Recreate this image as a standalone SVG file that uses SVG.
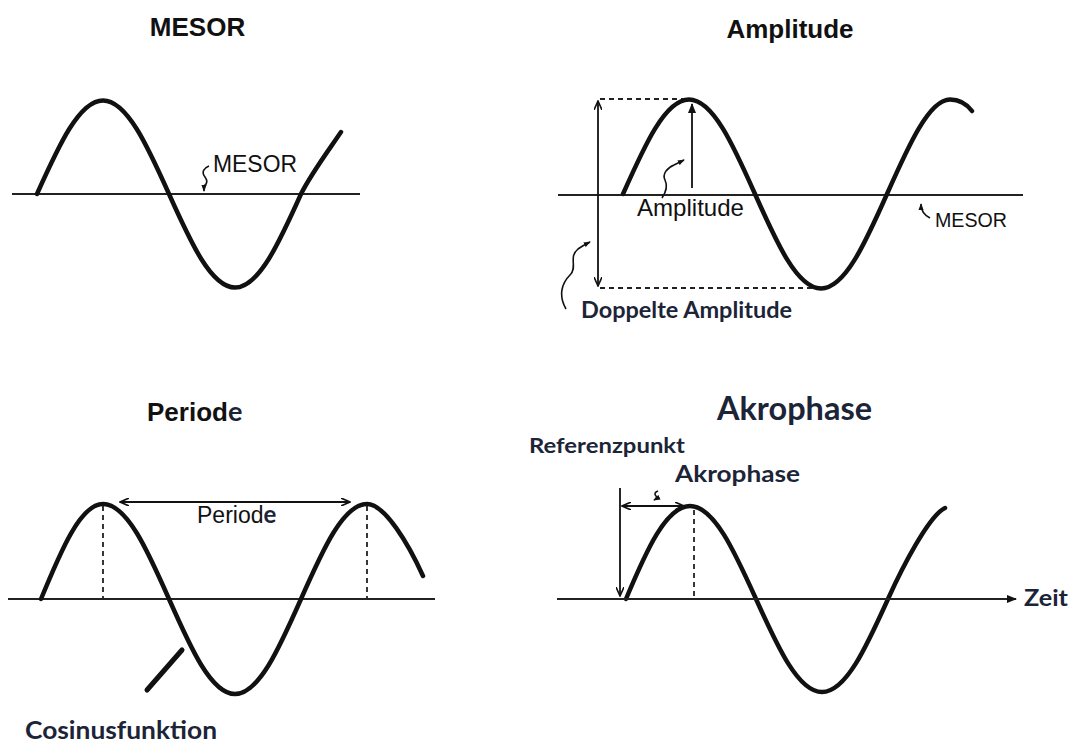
<svg xmlns="http://www.w3.org/2000/svg" width="1070" height="742" viewBox="0 0 1070 742">
<style>
.wave{fill:none;stroke:#111;stroke-width:4.5;stroke-linecap:round;stroke-linejoin:round}
.base{fill:none;stroke:#222;stroke-width:2}
.dash{fill:none;stroke:#222;stroke-width:1.8;stroke-dasharray:5,4}
.thin{fill:none;stroke:#111;stroke-width:1.8}
.sq{fill:none;stroke:#111;stroke-width:1.6}
.h{font-family:"Liberation Sans",Arial,sans-serif;fill:#111}
.hb{font-family:"Liberation Sans",Arial,sans-serif;font-weight:bold;fill:#111}
.c{font-family:Lato,"Open Sans",sans-serif;font-weight:bold;fill:#1c2438}
</style>
<defs>
<marker id="chev" viewBox="0 0 10 8" markerWidth="10" markerHeight="8" refX="9" refY="4" orient="auto-start-reverse" markerUnits="userSpaceOnUse">
<path d="M0,0 L9,4 L0,8" fill="none" stroke="#111" stroke-width="1.6"/>
</marker>
<marker id="tri" viewBox="0 0 10 8" markerWidth="10" markerHeight="8" refX="9" refY="4" orient="auto-start-reverse" markerUnits="userSpaceOnUse">
<path d="M0,0 L10,4 L0,8 z" fill="#111"/>
</marker>
<marker id="small" viewBox="0 0 8 6" markerWidth="7" markerHeight="6" refX="7" refY="3" orient="auto" markerUnits="userSpaceOnUse">
<path d="M0,0 L8,3 L0,6 z" fill="#111"/>
</marker>
</defs>
<rect width="1070" height="742" fill="#fff"/>

<g id="panel-mesor">
<text class="hb" x="197.5" y="36" font-size="26" text-anchor="middle">MESOR</text>
<line class="base" x1="12" y1="194" x2="360" y2="194"/>
<path class="wave" d="M37,194 c21.5,-47.9 42.1,-93.5 66,-93.5 c23.9,0 44.5,45.6 66,93.5 c21.5,47.9 42.1,93.5 66,93.5 c23.9,0 44.5,-45.6 66,-93.5 C311,174 326,154 341,132"/>
<text class="h" x="213" y="172" font-size="23" textLength="84" lengthAdjust="spacingAndGlyphs">MESOR</text>
</g>

<g id="panel-amplitude">
<text class="hb" x="790" y="38" font-size="26" text-anchor="middle">Amplitude</text>
<line class="base" x1="558" y1="195" x2="1023" y2="195"/>
<line class="dash" x1="600" y1="99" x2="688" y2="99"/>
<line class="dash" x1="600" y1="288" x2="818" y2="288"/>
<path class="wave" d="M623,194 c21.5,-48.4 42.1,-94.5 66,-94.5 c23.9,0 44.5,46.1 66,94.5 c21.5,48.4 42.1,94.5 66,94.5 c23.9,0 44.5,-46.1 66,-94.5 c21.5,-48.4 42.1,-94.5 63,-94.5 C959,99.5 966,103 972,111"/>
<text class="h" x="637" y="216" font-size="24" textLength="107" lengthAdjust="spacingAndGlyphs">Amplitude</text>
<text class="h" x="935" y="227" font-size="20" textLength="72" lengthAdjust="spacingAndGlyphs">MESOR</text>
<text class="c" x="581" y="318" font-size="23" textLength="211" lengthAdjust="spacingAndGlyphs">Doppelte Amplitude</text>
</g>

<g id="panel-periode">
<text class="hb" x="147" y="421" font-size="26">Period<tspan class="c" font-size="27" fill="#1c2438">e</tspan></text>
<line class="base" x1="8" y1="599" x2="435" y2="599"/>
<line class="dash" x1="103" y1="506" x2="103" y2="599"/>
<line class="dash" x1="367" y1="506" x2="367" y2="599"/>
<path class="wave" d="M41,599 c20,-48.6 39.5,-95 62,-95 c23.9,0 44.5,46.4 66,95 c21.5,48.6 42.1,95 66,95 c23.9,0 44.5,-46.4 66,-95 c21.5,-48.6 42.1,-95 66,-95 C385,504 409,545 423,576"/>
<text class="h" x="197" y="523" font-size="23">Period<tspan class="c" font-size="24" fill="#1c2438">e</tspan></text>
<text class="c" x="25" y="739" font-size="25" textLength="192" lengthAdjust="spacingAndGlyphs">Cosinusfunktion</text>
</g>

<g id="panel-akrophase">
<text class="c" x="717" y="420" font-size="33" textLength="155" lengthAdjust="spacingAndGlyphs">Akrophase</text>
<text class="c" x="529" y="453" font-size="20" textLength="156" lengthAdjust="spacingAndGlyphs">Referenzpunkt</text>
<text class="c" x="675" y="482" font-size="23" textLength="125" lengthAdjust="spacingAndGlyphs">Akrophase</text>
<line class="dash" x1="694" y1="510" x2="694" y2="598"/>
<path class="wave" d="M626,599 c20,-47.6 40,-93 64,-93 c23.9,0 44.5,45.4 66,93 c21.5,47.6 42.1,93 66,93 c23.9,0 44.5,-45.4 66,-93 C902,568 929,515.5 945,508"/>
<text class="c" x="1024" y="606" font-size="22" textLength="44" lengthAdjust="spacingAndGlyphs">Zeit</text>
</g>

<g id="connectors">
<path class="sq" d="M209,166 c-5,2 -8,6 -4,11 c3,4 2,7 -1,9 l0,5" marker-end="url(#small)"/>
<line class="thin" x1="598" y1="101" x2="598" y2="286" marker-start="url(#chev)" marker-end="url(#chev)"/>
<line class="thin" x1="692" y1="188" x2="692" y2="104" marker-end="url(#tri)"/>
<path class="sq" d="M662,198 c4,-6 6,-12 3,-18 c-3,-6 2,-12 9,-15 l10,-5" marker-end="url(#small)"/>
<path class="sq" d="M930,218 c-6,-3 -9,-8 -9,-14" marker-end="url(#small)"/>
<path class="sq" d="M566,309 c-8,-14 -4,-26 4,-34 c8,-8 -2,-18 8,-26 c4,-3 8,-5 12,-7" marker-end="url(#small)"/>
<line class="thin" x1="120" y1="502" x2="350" y2="502" marker-start="url(#chev)" marker-end="url(#chev)"/>
<line x1="147" y1="690" x2="182" y2="650" stroke="#111" stroke-width="5" stroke-linecap="round"/>
<line class="base" x1="557" y1="599" x2="1016" y2="599" marker-end="url(#tri)"/>
<line class="thin" x1="620" y1="488" x2="620" y2="596" marker-end="url(#chev)"/>
<line class="thin" x1="622" y1="506" x2="684" y2="506" marker-start="url(#chev)" marker-end="url(#chev)"/>
<path class="sq" d="M658,491 c-3,1 -4,3 -2,5 c1,1 0,3 -2,4" marker-end="url(#small)"/>
</g>
</svg>
